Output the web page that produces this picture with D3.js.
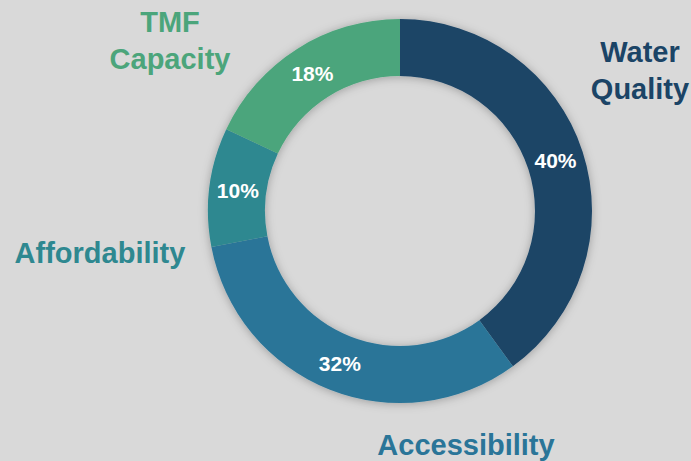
<!DOCTYPE html>
<html>
<head>
<meta charset="utf-8">
<script src="https://cdn.jsdelivr.net/npm/d3@7"></script>
<style>
  html, body { margin: 0; padding: 0; background: #d9d9d9; }
  svg { display: block; }
  text { font-family: "Liberation Sans", Arial, sans-serif; font-weight: bold; }
</style>
</head>
<body>
<svg id="chart" width="691" height="461"></svg>
<script>
// ---- data ----
const categories = ["Water Quality", "Accessibility", "Affordability", "TMF Capacity"];
const values = [40, 32, 10, 18];
const labelLines = [["Water", "Quality"], ["Accessibility"], ["Affordability"], ["TMF", "Capacity"]];

// ---- style / layout ----
const colors = ["#1b4466", "#2a7598", "#2e8890", "#4ba57b"];
const W = 691, H = 461;
const cx = 400, cy = 211, outerR = 192, innerR = 135;
// outer label anchors (center of text block), relative to donut center
const labelOffsets = [[240, -141], [66, 234], [-300, 42], [-230, -171]];
const fontSize = 29, lineH = 37;

const svg = d3.select("#chart");
const defs = svg.append("defs");
const f = defs.append("filter").attr("id", "shadow")
  .attr("x", "-20%").attr("y", "-20%").attr("width", "140%").attr("height", "140%");
f.append("feDropShadow").attr("dx", 0).attr("dy", 1).attr("stdDeviation", 5)
  .attr("flood-color", "#000").attr("flood-opacity", 0.28);

const data = categories.map((c, i) => ({ name: c, value: values[i], color: colors[i], lines: labelLines[i], off: labelOffsets[i] }));

const pie = d3.pie().value(d => d.value).sort(null);
const arc = d3.arc().innerRadius(innerR).outerRadius(outerR);
const arcs = pie(data);

const g = svg.append("g").attr("transform", `translate(${cx},${cy})`);

g.append("g").attr("filter", "url(#shadow)")
  .selectAll("path").data(arcs).join("path")
  .attr("d", arc)
  .attr("fill", d => d.data.color);

const total = d3.sum(values);
g.selectAll("text.pct").data(arcs).join("text")
  .attr("class", "pct")
  .attr("transform", d => `translate(${arc.centroid(d)})`)
  .attr("text-anchor", "middle")
  .attr("dy", "0.36em")
  .attr("fill", "#ffffff")
  .attr("font-size", 21)
  .text(d => Math.round(d.data.value / total * 100) + "%");

const lbl = g.selectAll("text.lbl").data(arcs).join("text")
  .attr("class", "lbl")
  .attr("text-anchor", "middle")
  .attr("fill", d => d.data.color)
  .attr("font-size", fontSize)
  .attr("transform", d => `translate(${d.data.off[0]},${d.data.off[1]})`);

lbl.each(function(d) {
  const n = d.data.lines.length;
  d3.select(this).selectAll("tspan").data(d.data.lines).join("tspan")
    .attr("x", 0)
    .attr("y", (l, i) => (i - (n - 1) / 2) * lineH + fontSize * 0.36)
    .text(l => l);
});
</script>
</body>
</html>
